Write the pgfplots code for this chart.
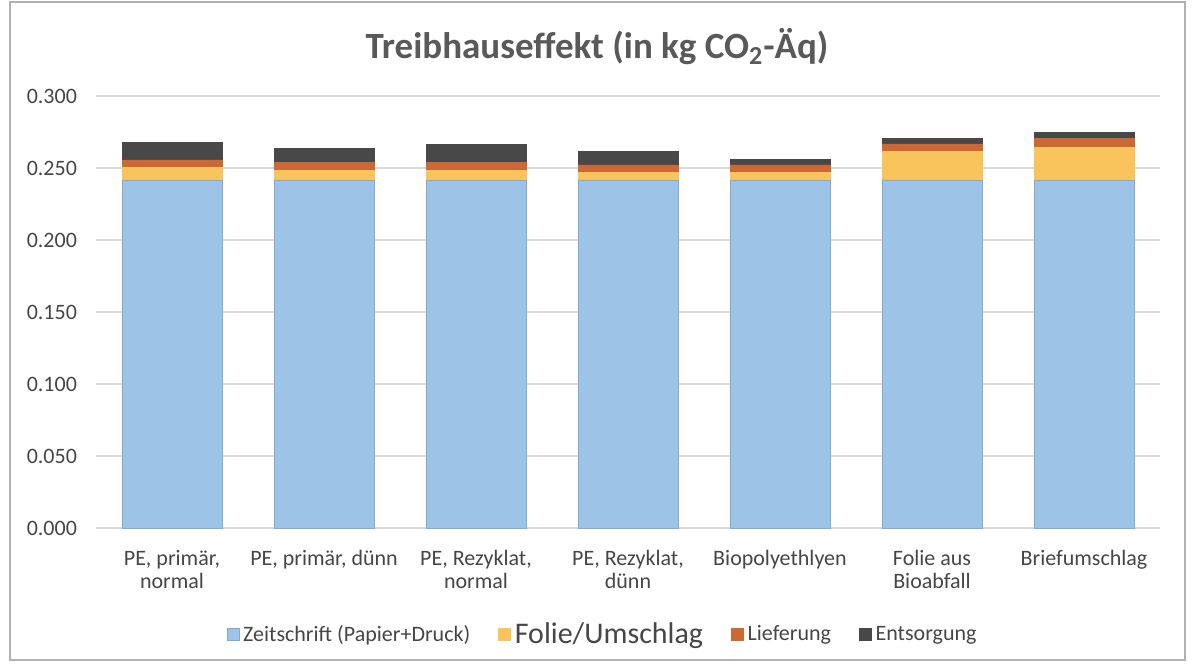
\documentclass[border=0pt]{standalone}
\usepackage{fontspec}
\setmainfont{Carlito}
\usepackage{pgfplots}
\pgfplotsset{compat=1.18}
\definecolor{cBlue}{RGB}{157,195,230}
\definecolor{cBlueE}{RGB}{130,170,210}
\definecolor{cYellow}{RGB}{250,196,92}
\definecolor{cOrange}{RGB}{204,104,52}
\definecolor{cDark}{RGB}{72,72,72}
\definecolor{txt}{RGB}{89,89,89}
\definecolor{txtd}{RGB}{70,70,70}
\definecolor{gridc}{RGB}{217,217,217}
\begin{document}
\begin{tikzpicture}
\draw[color=gray!60, line width=0.7pt] (5pt,3pt) rectangle (592.5pt,332pt);
\node[font=\fontsize{18.5}{20}\selectfont\bfseries, text=txt] at (298.5pt,309.5pt) {Treibhauseffekt (in kg CO\textsubscript{2}-Äq)};
\begin{axis}[
  at={(48pt,69pt)}, anchor=south west,
  scale only axis, width=532pt, height=216pt,
  ybar stacked, bar width=50pt,
  xmin=-0.5, xmax=6.5, ymin=0, ymax=0.3,
  xtick={0,1,2,3,4,5,6},
  xticklabels={{PE, primär,\\normal},{PE, primär, dünn},{PE, Rezyklat,\\normal},{PE, Rezyklat,\\dünn},{Biopolyethlyen},{Folie aus\\Bioabfall},{Briefumschlag}},
  xticklabel style={font=\fontsize{11}{11.6}\selectfont, align=center, text=txtd, yshift=-7.5pt},
  ytick={0,0.05,0.1,0.15,0.2,0.25,0.3},
  yticklabel style={font=\fontsize{11}{13}\selectfont, text=txtd, xshift=-6pt,
    /pgf/number format/.cd, fixed, fixed zerofill, precision=3, assume math mode=true},
  major tick length=0pt,
  axis x line*=bottom, axis y line*=left,
  y axis line style={draw=none},
  x axis line style={draw=gridc, line width=0.7pt},
  ymajorgrids, grid style={draw=gridc, line width=0.6pt},
  legend columns=4,
  legend style={at={(0.477,-0.247)}, anchor=center, draw=none, fill=none,
    font=\fontsize{11}{13}\selectfont, text=txtd,
    /tikz/every even column/.append style={column sep=12pt}},
  legend image code/.code={\draw[#1, line width=0.3pt] (0pt,-3pt) rectangle (6pt,3pt);},
]
\addplot[fill=cBlue, draw=cBlueE, line width=0.4pt] coordinates {(0,0.2417) (1,0.2417) (2,0.2417) (3,0.2417) (4,0.2417) (5,0.2417) (6,0.2417)};
\addlegendentry{Zeitschrift (Papier+Druck)}
\addplot[fill=cYellow, draw=cYellow, line width=0.4pt] coordinates {(0,0.0088) (1,0.0064) (2,0.0064) (3,0.0053) (4,0.0053) (5,0.0196) (6,0.0224)};
\addlegendentry{\fontsize{15}{15}\selectfont Folie/Umschlag}
\addplot[fill=cOrange, draw=cOrange, line width=0.4pt] coordinates {(0,0.0051) (1,0.0056) (2,0.0056) (3,0.0051) (4,0.0051) (5,0.0054) (6,0.0065)};
\addlegendentry{Lieferung}
\addplot[fill=cDark, draw=cDark, line width=0.4pt] coordinates {(0,0.0122) (1,0.0100) (2,0.0125) (3,0.0097) (4,0.0037) (5,0.0039) (6,0.0042)};
\addlegendentry{Entsorgung}
\end{axis}
\pgfresetboundingbox
\useasboundingbox (0pt,0pt) rectangle (597pt,333pt);
\end{tikzpicture}
\end{document}
